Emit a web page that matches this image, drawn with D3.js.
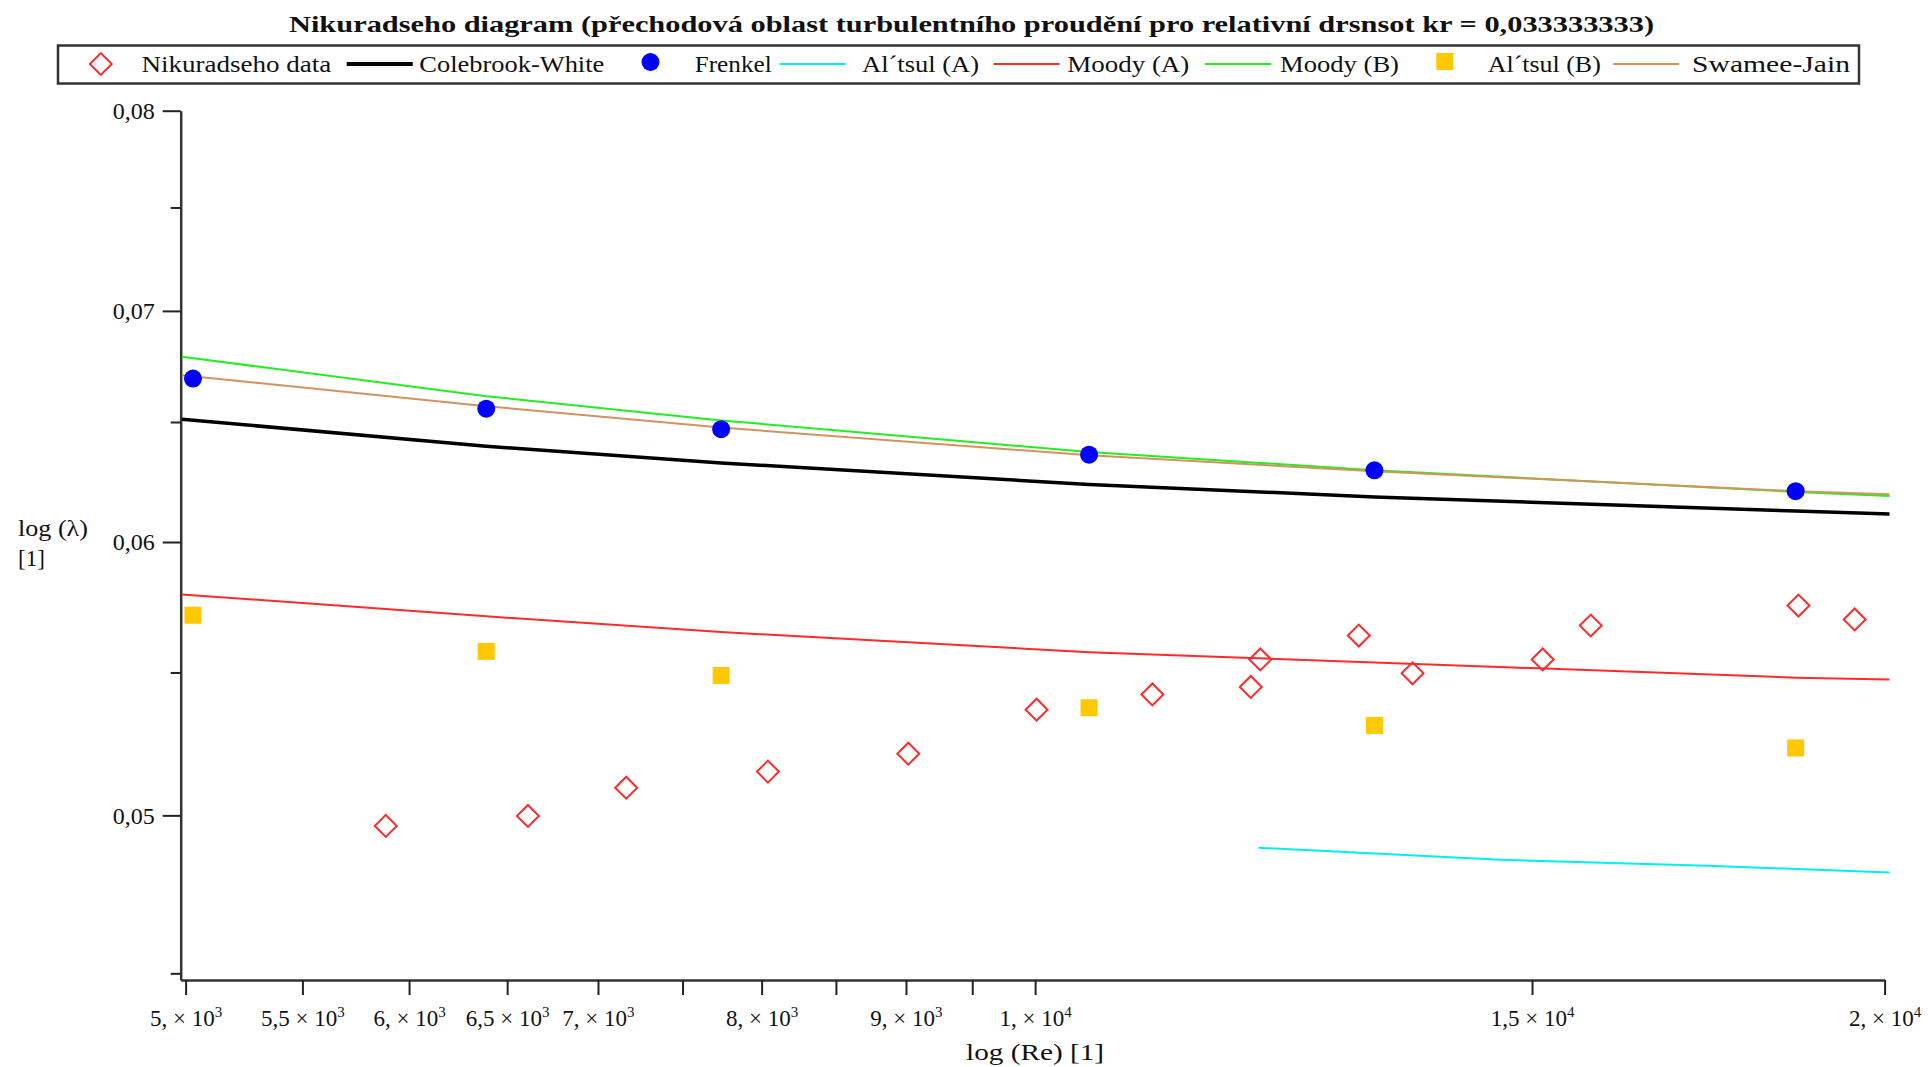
<!DOCTYPE html>
<html>
<head>
<meta charset="utf-8">
<script src="https://cdn.jsdelivr.net/npm/d3@7"></script>
<style>
body { margin: 0; background: #fff; }
text { font-family: "Liberation Serif", "Times New Roman", serif; fill: #111; }
</style>
</head>
<body>
<svg width="1928" height="1067"></svg>
<script>
// Re values of the computed points
var reCalc = [5030, 6390, 7740, 10450, 13190, 18600]
var frenkel = [0.06691, 0.06558, 0.06469, 0.0636, 0.06294, 0.06207]
var altsulB = [0.05714, 0.05578, 0.05489, 0.05372, 0.05309, 0.0523]

// Nikuradse measured points
var nikRe = [5887, 6611, 7163, 8041, 9017, 10012, 11004, 11924, 12017, 13023, 13607, 15131, 15736, 18642, 19518]
var nikLam = [0.04965, 0.04998, 0.05093, 0.05148, 0.0521, 0.05365, 0.0542, 0.05447, 0.05548, 0.05637, 0.05497, 0.05548, 0.05675, 0.05751, 0.05698]

// curves
var lineRe = [4985, 6390, 7740, 10450, 13190, 18600, 20080]
var colebrook = [0.06512, 0.06396, 0.06325, 0.06235, 0.06183, 0.06125, 0.06113]
var moodyA = [0.05794, 0.0571, 0.0565, 0.05575, 0.05537, 0.05481, 0.05474]
var moodyB = [0.06789, 0.06613, 0.06507, 0.06371, 0.06294, 0.06204, 0.06187]
var swamee = [0.06706, 0.06569, 0.06476, 0.06357, 0.0629, 0.06207, 0.06194]
var altsulARe = [12000, 14615, 17314, 20076]
var altsulA = [0.04893, 0.04854, 0.04835, 0.04813]

// axis ticks
var xTicks = [5000, 5500, 6000, 6500, 7000, 7500, 8000, 8500, 9000, 9500, 10000, 15000, 20000]
var xTickMant = ["5,", "5,5", "6,", "6,5", "7,", "", "8,", "", "9,", "", "1,", "1,5", "2,"]
var xTickExp = ["3", "3", "3", "3", "3", "", "3", "", "3", "", "4", "4", "4"]
var yTicks = [0.045, 0.05, 0.055, 0.06, 0.065, 0.07, 0.075, 0.08]
var yTickLabels = ["", "0,05", "", "0,06", "", "0,07", "", "0,08"]

var legendNames = ["Nikuradseho data", "Colebrook-White", "Frenkel", "Al\u00b4tsul (A)", "Moody (A)", "Moody (B)", "Al\u00b4tsul (B)", "Swamee-Jain"]
var legendKinds = ["diamond", "thick", "dot", "line", "line", "line", "square", "line"]
var legendColors = ["#ff2a2a", "#000000", "#0000ff", "#00f0f0", "#ff2a2a", "#22ee22", "#ffc800", "#d4935e"]

var title = "Nikuradseho diagram (p\u0159echodov\u00e1 oblast turbulentn\u00edho proud\u011bn\u00ed pro relativn\u00ed drsnsot kr = 0,033333333)"

var svg = d3.select("svg")

var xScale = d3.scaleLog().domain([4980, 20000]).range([180.7, 1884.6])
var yScale = d3.scaleLog().domain([0.0448, 0.08]).range([980, 110.7])

// title
svg.append("text")
    .attr("x", 289).attr("y", 32)
    .attr("font-size", 24).attr("font-weight", "bold")
    .attr("textLength", 1365).attr("lengthAdjust", "spacingAndGlyphs")
    .text(title)

// axes
var xAxis = d3.axisBottom(xScale).tickValues(xTicks).tickSize(15).tickSizeOuter(0).tickFormat(function(){ return "" })
var yAxis = d3.axisLeft(yScale).tickValues(yTicks).tickSize(18).tickSizeOuter(0)
    .tickFormat(function(d, i){ return yTickLabels[i] })

var gx = svg.append("g").attr("transform", "translate(0,980)").call(xAxis)
var gy = svg.append("g").attr("transform", "translate(180.7,0)").call(yAxis)

gx.select(".domain").attr("stroke", "#333").attr("stroke-width", 2.5)
gy.select(".domain").attr("stroke", "#333").attr("stroke-width", 2.5)
gx.selectAll(".tick line").attr("stroke", "#222").attr("stroke-width", 2)
gy.selectAll(".tick line").attr("stroke", "#222").attr("stroke-width", 2)
    .attr("x2", function(d, i){ return yTickLabels[i] ? -18 : -10 })
gy.selectAll(".tick text").attr("font-family", "Liberation Serif").attr("font-size", 24)
    .attr("fill", "#111").attr("x", -26).attr("dy", "0.33em")

gx.selectAll(".tick text").each(function(d, i) {
    var t = d3.select(this)
        .attr("font-family", "Liberation Serif").attr("font-size", 23).attr("fill", "#111")
        .attr("y", 46).attr("dy", 0)
    if (!xTickMant[i]) return
    t.append("tspan").text(xTickMant[i] + " \u00d7 10")
    t.append("tspan").attr("dy", -9).attr("font-size", 15).text(xTickExp[i])
})

svg.append("text").attr("x", xScale(10000)).attr("y", 1060)
    .attr("text-anchor", "middle").attr("font-size", 24)
    .attr("textLength", 138).attr("lengthAdjust", "spacingAndGlyphs")
    .text("log (Re) [1]")

svg.append("text").attr("x", 18).attr("y", 536)
    .attr("font-size", 23).attr("textLength", 70).attr("lengthAdjust", "spacingAndGlyphs")
    .text("log (\u03bb)")
svg.append("text").attr("x", 18).attr("y", 566).attr("font-size", 23).text("[1]")

// curves
var lineGen = function(xs) {
    return d3.line()
        .x(function(v, i){ return xScale(xs[i]) })
        .y(function(v){ return yScale(v) })
}

var curves = [
    {vals: moodyA, xs: lineRe, color: legendColors[4], w: 2},
    {vals: altsulA, xs: altsulARe, color: legendColors[3], w: 2},
    {vals: colebrook, xs: lineRe, color: legendColors[1], w: 3.5},
    {vals: moodyB, xs: lineRe, color: legendColors[5], w: 2},
    {vals: swamee, xs: lineRe, color: legendColors[7], w: 2}
]

svg.append("g").selectAll("path")
    .data(curves)
    .enter()
    .append("path")
    .attr("fill", "none")
    .attr("stroke", function(c){ return c.color })
    .attr("stroke-width", function(c){ return c.w })
    .attr("d", function(c){ return lineGen(c.xs)(c.vals) })

// points
var diamond = d3.symbol().type(d3.symbolSquare).size(240)

svg.append("g").selectAll("path")
    .data(nikLam)
    .enter()
    .append("path")
    .attr("d", diamond)
    .attr("fill", "none")
    .attr("stroke", legendColors[0])
    .attr("stroke-width", 2)
    .attr("transform", function(v, i){ return "translate(" + xScale(nikRe[i]) + "," + yScale(v) + ") rotate(45)" })

svg.append("g").selectAll("rect")
    .data(altsulB)
    .enter()
    .append("rect")
    .attr("width", 17).attr("height", 17)
    .attr("fill", legendColors[6])
    .attr("x", function(v, i){ return xScale(reCalc[i]) - 8.5 })
    .attr("y", function(v){ return yScale(v) - 8.5 })

svg.append("g").selectAll("circle")
    .data(frenkel)
    .enter()
    .append("circle")
    .attr("r", 9)
    .attr("fill", legendColors[2])
    .attr("cx", function(v, i){ return xScale(reCalc[i]) })
    .attr("cy", function(v){ return yScale(v) })

// legend
var legendSym = [100.8, 346.7, 650.5, 779.6, 993.5, 1205, 1444.8, 1613.2]
var legendText = [141.4, 419.3, 694.7, 862, 1067.3, 1280, 1487.8, 1692]
var legendTextW = [190, 185, 77, 117, 122, 119, 113, 158]
var legY = 64

var legend = svg.append("g")
legend.append("rect")
    .attr("x", 58).attr("y", 45.5).attr("width", 1801).attr("height", 38)
    .attr("fill", "none").attr("stroke", "#333").attr("stroke-width", 2.5)

legendNames.forEach(function(name, i) {
    var k = legendKinds[i]
    if (k == "diamond") {
        legend.append("path").attr("d", diamond)
            .attr("fill", "none").attr("stroke", legendColors[i]).attr("stroke-width", 2)
            .attr("transform", "translate(" + legendSym[i] + "," + legY + ") rotate(45)")
    } else if (k == "dot") {
        legend.append("circle").attr("cx", legendSym[i]).attr("cy", legY - 2).attr("r", 9).attr("fill", legendColors[i])
    } else if (k == "square") {
        legend.append("rect").attr("x", legendSym[i] - 8.5).attr("y", legY - 11).attr("width", 17).attr("height", 17).attr("fill", legendColors[i])
    } else {
        legend.append("line")
            .attr("x1", legendSym[i]).attr("x2", legendSym[i] + 66)
            .attr("y1", legY).attr("y2", legY)
            .attr("stroke", legendColors[i]).attr("stroke-width", k == "thick" ? 4 : 2)
    }
    legend.append("text")
        .attr("x", legendText[i]).attr("y", legY + 8)
        .attr("font-size", 23)
        .attr("textLength", legendTextW[i]).attr("lengthAdjust", "spacingAndGlyphs")
        .text(name)
})
</script>
</body>
</html>
